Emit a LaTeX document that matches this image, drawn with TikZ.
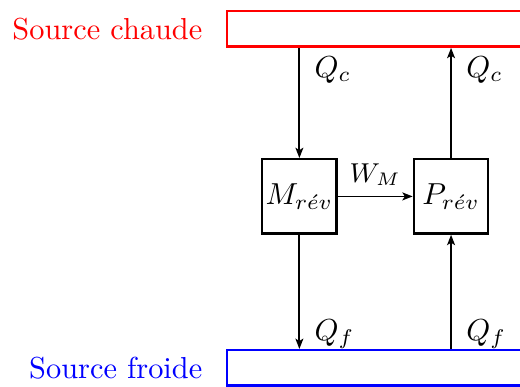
\documentclass[tikz,border=0pt]{standalone}
\usetikzlibrary{arrows.meta, positioning}

\begin{document}
\begin{tikzpicture}[
    >={Stealth[length=3.4pt, width=2.6pt, inset=0.8pt]},
    reservoir/.style={draw, line width=0.8pt, minimum width=4cm, minimum height=0.41cm, anchor=north west, inner sep=0pt},
    machine/.style={draw, thick, minimum size=0.86cm, inner sep=1pt},
    srclabel/.style={anchor=east},
    arrow/.style={->, semithick},
  ]
  \useasboundingbox (0,0) rectangle (6.02,-4.48);

  % --- Reservoirs ---
  \node[reservoir, draw=red] at (2.616,-0.116) (hot) {};
  \node[srclabel, text=red, left=0.15cm of hot.west] (hotlbl) {Source chaude};

  \node[reservoir, draw=blue] at (2.616,-4.04) (cold) {};
  \node[srclabel, text=blue, left=0.15cm of cold.west] (coldlbl) {Source froide};

  % --- Machines ---
  \node[machine] at (3.466,-2.274) (M) {$M_{r\acute{e}v}$};
  \node[machine] at (5.222,-2.274) (P) {$P_{r\acute{e}v}$};

  % --- Work ---
  \draw[arrow] (M.east) -- node[above, font=\small] {$W_M$} (P.west);

  % --- Heat flows ---
  \draw[arrow] (M.north |- hot.south) -- node[pos=0.2, right=0.05cm] {$Q_c$} (M.north);
  \draw[arrow] (P.north) -- node[pos=0.8, right=0.05cm] {$Q_c$} (P.north |- hot.south);
  \draw[arrow] (M.south) -- node[pos=0.87, right=0.05cm] {$Q_f$} (M.south |- cold.north);
  \draw[arrow] (P.south |- cold.north) -- node[pos=0.13, right=0.05cm] {$Q_f$} (P.south);

\end{tikzpicture}
\end{document}
